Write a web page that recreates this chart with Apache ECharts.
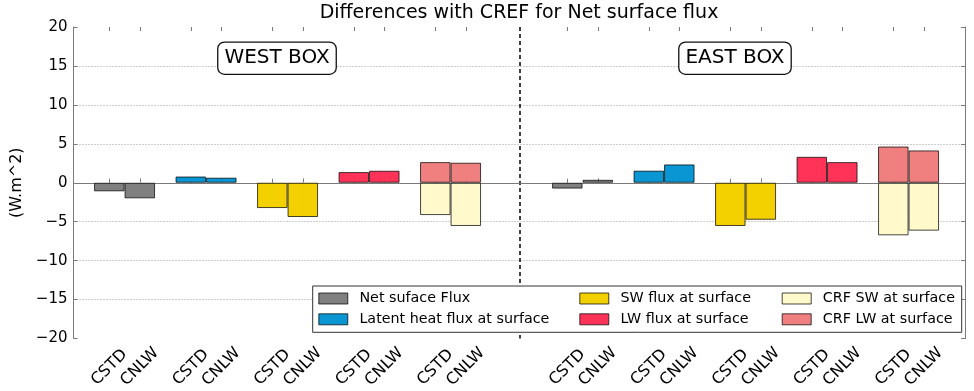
<!DOCTYPE html>
<html><head><meta charset="utf-8">
<script src="https://cdn.jsdelivr.net/npm/echarts@6/dist/echarts.min.js"></script>
<style>html,body{margin:0;padding:0;background:#fff}#c{width:974px;height:391px}</style>
</head><body><div id="c"></div>
<script>
// ---------------- data ----------------
const chartTitle = 'Differences with CREF for Net surface flux';
const yAxisName = '(W.m^2)';
const boxLabels = ['WEST BOX', 'EAST BOX'];
const experiments = ['CSTD', 'CNLW'];
const groups = ['Net', 'Latent', 'SW', 'LW', 'CRF'];
const variableNames = ['Net suface Flux', 'Latent heat flux at surface', 'SW flux at surface',
                       'LW flux at surface', 'CRF SW at surface', 'CRF LW at surface'];
const variableGroup = [0, 1, 2, 3, 4, 4];
// values per variable (order of variableNames)
const westCSTD = [-1.1, 0.8, -3.25, 1.37, -4.15, 2.65];
const westCNLW = [-2.0, 0.65, -4.4, 1.54, -5.55, 2.57];
const eastCSTD = [-0.75, 1.55, -5.55, 3.33, -6.75, 4.65];
const eastCNLW = [0.38, 2.35, -4.75, 2.65, -6.15, 4.15];
const yMin = -20, yMax = 20, yStep = 5;
const legendColumns = [[0, 1], [2, 3], [4, 5]];

// ---------------- styles / layout ----------------
const colors = ['#808080', '#0a96d2', '#f3d000', '#ff3358', '#fff9cc', '#f08080'];
const FONT = 'DejaVu Sans';
const PL = 73.5, PR = 965, PT = 27, PB = 338.5;
const BAND = 81.5, BAR = 30.5;
const groupCenter0 = [124.55, 582.55];
const gridH = PB - PT;

const values = [[westCSTD, westCNLW], [eastCSTD, eastCNLW]];

const grids = [{left: PL, top: PT, width: PR - PL, height: gridH}];
for (let b = 0; b < 2; b++) grids.push({left: groupCenter0[b] - BAND / 2, top: PT, width: BAND * 5, height: gridH});
for (let b = 0; b < 2; b++) for (let e = 0; e < 2; e++)
  grids.push({left: groupCenter0[b] - BAND / 2 + (e === 0 ? -BAR / 2 : BAR / 2), top: PT, width: BAND * 5, height: gridH});

const frameColor = '#7a7a7a';
const xAxes = [
  {type: 'category', gridIndex: 0, data: ['', ''], position: 'bottom',
   axisLine: {lineStyle: {color: frameColor, width: 1}},
   axisTick: {inside: true, length: 6, lineStyle: {color: '#000', width: 1.5}},
   axisLabel: {show: false},
   splitLine: {show: true, showMinLine: false, showMaxLine: false, lineStyle: {color: '#000', width: 1.5, type: [4, 3]}}},
  {type: 'category', gridIndex: 0, data: ['', ''], position: 'top',
   axisLine: {lineStyle: {color: frameColor, width: 1}},
   axisTick: {inside: true, length: 6, lineStyle: {color: '#000', width: 1.5}},
   axisLabel: {show: false}, splitLine: {show: false}},
  {type: 'category', gridIndex: 1, data: groups, show: false},
  {type: 'category', gridIndex: 2, data: groups, show: false}
];
for (let i = 0; i < 4; i++) {
  const exp = experiments[i % 2];
  xAxes.push({type: 'category', gridIndex: 3 + i, data: groups.map(() => exp), position: 'bottom',
    axisLine: {show: false},
    axisTick: {show: true, inside: true, length: 4, alignWithLabel: true, lineStyle: {color: frameColor}},
    axisLabel: {interval: 0, rotate: 45, align: 'center', verticalAlign: 'middle', margin: 29,
      fontSize: 16, color: '#000', fontFamily: FONT},
    splitLine: {show: false}});
}
for (let i = 0; i < 4; i++) {
  xAxes.push({type: 'category', gridIndex: 3 + i, data: groups, position: 'top',
    axisLine: {show: false},
    axisTick: {show: true, inside: true, length: 4, alignWithLabel: true, lineStyle: {color: frameColor}},
    axisLabel: {show: false}, splitLine: {show: false}});
}

const yAxes = [
  {type: 'value', gridIndex: 0, min: yMin, max: yMax, interval: yStep, position: 'left',
   name: yAxisName, nameLocation: 'middle', nameRotate: 90, nameGap: 36,
   nameTextStyle: {fontSize: 16, color: '#000', fontFamily: FONT},
   axisLine: {show: true, lineStyle: {color: frameColor, width: 1}},
   axisTick: {show: true, inside: true, length: 4, lineStyle: {color: frameColor}},
   axisLabel: {fontSize: 15, color: '#000', fontFamily: FONT, margin: 6,
     formatter: v => String(v).replace('-', '\u2212')},
   splitLine: {show: true, showMinLine: false, showMaxLine: false, lineStyle: {color: '#9a9a9a', type: [1, 2], width: 1}}},
  {type: 'value', gridIndex: 0, min: yMin, max: yMax, interval: yStep, position: 'right',
   axisLine: {show: true, lineStyle: {color: frameColor, width: 1}},
   axisTick: {show: true, inside: true, length: 4, lineStyle: {color: frameColor}},
   axisLabel: {show: false}, splitLine: {show: false}}
];
for (let g = 1; g < grids.length; g++)
  yAxes.push({type: 'value', gridIndex: g, min: yMin, max: yMax, interval: yStep, show: false});

const series = [];
for (let b = 0; b < 2; b++) {
  for (let e = 0; e < 2; e++) {
    for (let v = 0; v < variableNames.length; v++) {
      const data = groups.map(() => null);
      data[variableGroup[v]] = values[b][e][v];
      series.push({
        type: 'bar', name: variableNames[v], data: data,
        xAxisIndex: 2 + b, yAxisIndex: 2 + b,
        stack: boxLabels[b] + experiments[e],
        barWidth: BAR, barGap: '0%',
        itemStyle: {color: colors[v], borderColor: 'rgba(0,0,0,0.72)', borderWidth: 1},
        emphasis: {disabled: true}
      });
    }
  }
}

const legendLeft = [318.3, 579.3, 781.7];
const legends = legendColumns.map((col, i) => ({
  data: col.map(k => variableNames[k]), orient: 'vertical', left: legendLeft[i], top: 291.5,
  padding: 0, itemWidth: 29, itemHeight: 11, itemGap: 6.8, icon: 'rect', selectedMode: false, z: 5,
  itemStyle: {borderWidth: 1},
  textStyle: {fontSize: 14.3, color: '#000', fontFamily: FONT, padding: [0, 0, 0, 6.6]}
}));

const boxCenters = [[277, 58.2], [735, 58.2]];
const graphics = [
  {type: 'rect', z: 3, shape: {x: 312.7, y: 286, width: 649, height: 46.3},
   style: {fill: '#fff', stroke: '#333', lineWidth: 1}}
];
boxLabels.forEach((t, i) => graphics.push({
  type: 'text', z: 3, x: boxCenters[i][0], y: boxCenters[i][1],
  style: {text: t, font: '20px "DejaVu Sans"', fill: '#000', align: 'center', verticalAlign: 'middle',
    backgroundColor: '#fff', borderColor: '#111', borderWidth: 1.3, borderRadius: 6, padding: [6, 6, 5, 6]}
}));

const chart = echarts.init(document.getElementById('c'), null, {renderer: 'canvas'});
chart.setOption({
  animation: false,
  backgroundColor: '#fff',
  textStyle: {fontFamily: FONT},
  title: {text: chartTitle, left: 519, textAlign: 'center', top: 4, padding: 0,
    textStyle: {fontSize: 19, fontWeight: 'normal', color: '#000', fontFamily: FONT}},
  grid: grids,
  xAxis: xAxes,
  yAxis: yAxes,
  legend: legends,
  graphic: graphics,
  series: series
});
</script></body></html>
